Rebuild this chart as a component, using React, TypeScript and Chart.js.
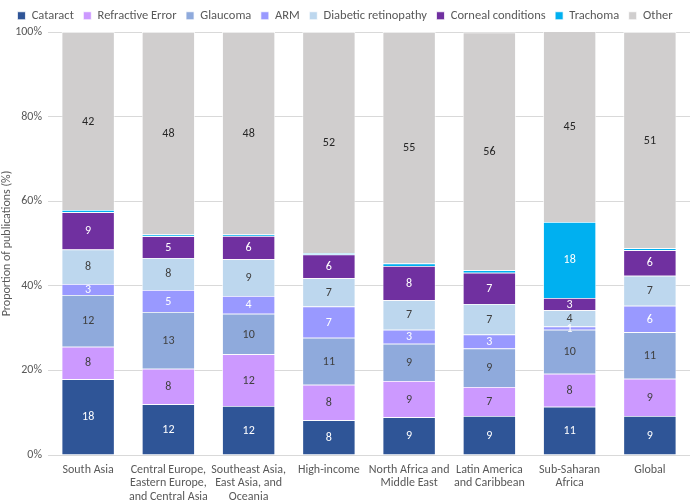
import React, { useEffect, useRef } from "react";
import { Chart, registerables } from "chart.js";

Chart.register(...registerables);

const categories: string[][] = [
  ["South Asia"],
  ["Central Europe,", "Eastern Europe,", "and Central Asia"],
  ["Southeast Asia,", "East Asia, and", "Oceania"],
  ["High-income"],
  ["North Africa and", "Middle East"],
  ["Latin America", "and Caribbean"],
  ["Sub-Saharan", "Africa"],
  ["Global"],
];

const cataract = [17.9, 12.0, 11.6, 8.2, 8.9, 9.2, 11.4, 9.2];
const refractiveError = [7.7, 8.4, 12.2, 8.4, 8.6, 6.9, 7.8, 8.8];
const glaucoma = [12.2, 13.4, 9.6, 11.1, 8.8, 9.1, 10.4, 11.0];
const arm = [2.6, 5.2, 4.2, 7.4, 3.3, 3.3, 0.8, 6.3];
const diabeticRetinopathy = [8.2, 7.6, 8.7, 6.7, 7.0, 7.2, 3.8, 7.1];
const cornealConditions = [8.8, 5.1, 5.5, 5.6, 8.1, 7.4, 2.9, 6.0];
const trachoma = [0.5, 0.4, 0.3, 0.3, 0.6, 0.6, 18.0, 0.5];
const other = [42.1, 47.9, 47.9, 52.3, 54.7, 56.2, 45.1, 51.1];

const yTicks = [0, 20, 40, 60, 80, 100];

const seriesDefs = [
  { label: "Cataract", data: cataract, color: "#2F5597", text: "#FFFFFF" },
  { label: "Refractive Error", data: refractiveError, color: "#CC99FF", text: "#404040" },
  { label: "Glaucoma", data: glaucoma, color: "#8FAADC", text: "#404040" },
  { label: "ARM", data: arm, color: "#9999FF", text: "#FFFFFF" },
  { label: "Diabetic retinopathy", data: diabeticRetinopathy, color: "#BDD7EE", text: "#404040" },
  { label: "Corneal conditions", data: cornealConditions, color: "#7030A0", text: "#FFFFFF" },
  { label: "Trachoma", data: trachoma, color: "#00B0F0", text: "#FFFFFF" },
  { label: "Other", data: other, color: "#D0CECE", text: "#262626" },
];

const FONT = "Carlito, Lato, sans-serif";

const labelPlugin = {
  id: "segLabels",
  afterDatasetsDraw(chart: any) {
    const ctx = chart.ctx;
    ctx.save();
    ctx.font = `12px ${FONT}`;
    ctx.textAlign = "center";
    ctx.textBaseline = "middle";
    chart.data.datasets.forEach((ds: any, di: number) => {
      const meta = chart.getDatasetMeta(di);
      meta.data.forEach((el: any, i: number) => {
        const v = ds.data[i];
        if (v < 0.75) return;
        const y = (el.y + el.base) / 2;
        ctx.fillStyle = seriesDefs[di].text;
        ctx.fillText(String(Math.round(v)), el.x, y + 0.5);
      });
    });
    ctx.restore();
  },
};

export default function App() {
  const ref = useRef<HTMLCanvasElement | null>(null);
  useEffect(() => {
    document.body.style.margin = "0";
    if (!ref.current) return;
    const chart = new Chart(ref.current, {
      type: "bar",
      data: {
        labels: categories,
        datasets: seriesDefs.map((s) => ({
          label: s.label,
          data: s.data,
          backgroundColor: s.color,
          borderColor: "#FFFFFF",
          borderWidth: 0.75,
          categoryPercentage: 1,
          barPercentage: 0.66,
        })),
      },
      options: {
        animation: false,
        responsive: false,
        maintainAspectRatio: false,
        layout: { padding: { left: 0, right: 0, top: 0, bottom: 0 } },
        plugins: {
          legend: {
            position: "top",
            labels: {
              boxWidth: 8,
              boxHeight: 8,
              padding: 9.5,
              color: "#595959",
              font: { family: FONT, size: 12.5 },
            },
          },
          tooltip: { enabled: false },
        },
        scales: {
          x: {
            stacked: true,
            grid: { display: false },
            border: { display: true, color: "#D9D9D9" },
            ticks: {
              color: "#595959",
              font: { family: FONT, size: 12, lineHeight: "13.5px" },
              padding: 0,
              maxRotation: 0,
              autoSkip: false,
            },
            afterFit: (scale: any) => {
              scale.height = 45;
            },
          },
          y: {
            stacked: true,
            min: 0,
            max: 100,
            afterBuildTicks: (scale: any) => {
              scale.ticks = yTicks.map((v) => ({ value: v }));
            },
            grid: { color: "#D9D9D9", drawTicks: false },
            border: { display: false },
            title: {
              display: true,
              text: "Proportion of publications (%)",
              color: "#595959",
              font: { family: FONT, size: 12 },
              padding: { top: 0, bottom: 0 },
            },
            ticks: {
              color: "#595959",
              font: { family: FONT, size: 12 },
              padding: 6,
              callback: (v: any) => `${v}%`,
            },
            afterFit: (scale: any) => {
              scale.width = 48;
            },
          },
        },
      },
      plugins: [labelPlugin],
    });
    return () => chart.destroy();
  }, []);
  return (
    <div style={{ width: 690, height: 500 }}>
      <canvas ref={ref} width={690} height={500} style={{ width: 690, height: 500 }} />
    </div>
  );
}
